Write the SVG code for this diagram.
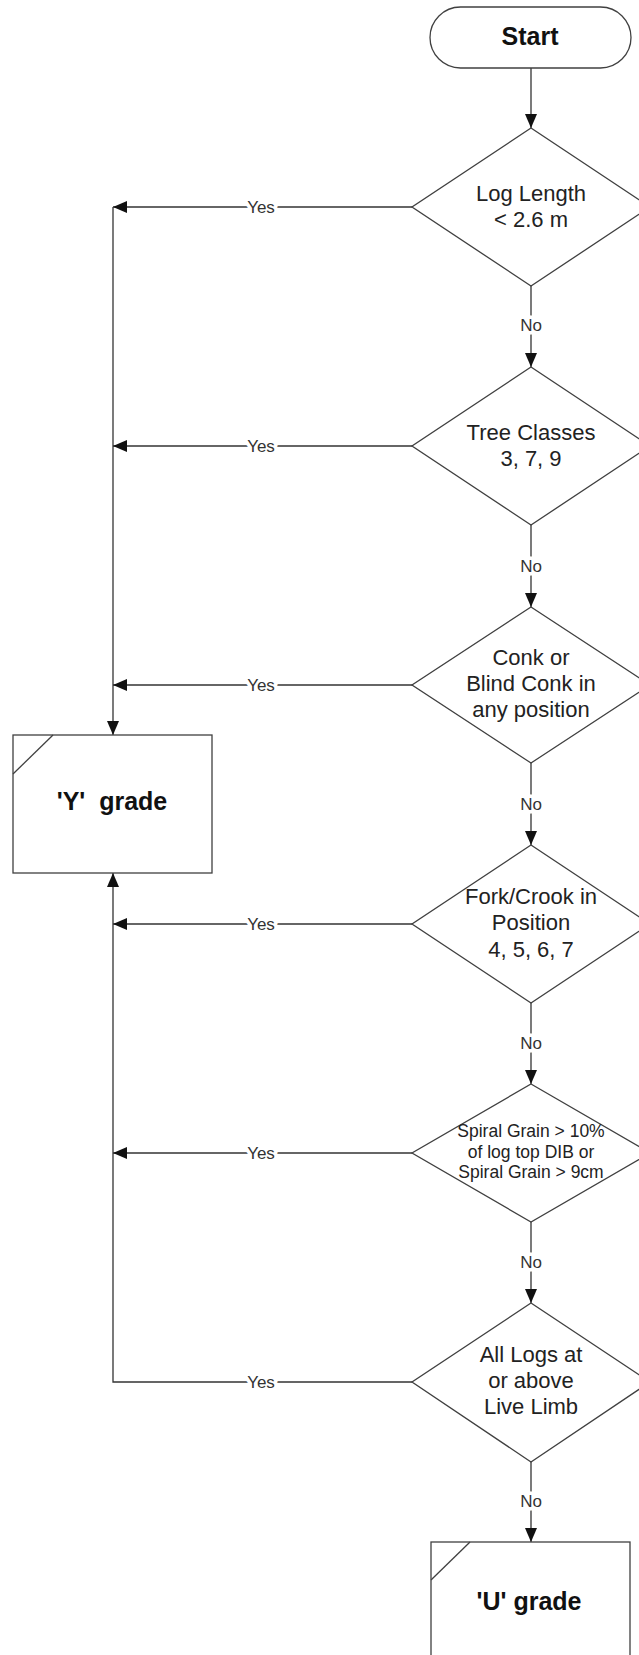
<svg xmlns="http://www.w3.org/2000/svg" width="639" height="1655" viewBox="0 0 639 1655">
<defs>
<style>
.shape{fill:#fff;stroke:#404040;stroke-width:1.3}
.cut{fill:none;stroke:#404040;stroke-width:1.3}
.conn{fill:none;stroke:#333;stroke-width:1.3}
.t{font-family:"Liberation Sans",Arial,sans-serif;font-size:22px;fill:#222;text-anchor:middle}
.ts{font-family:"Liberation Sans",Arial,sans-serif;font-size:17.5px;fill:#222;text-anchor:middle}
.tb{font-family:"Liberation Sans",Arial,sans-serif;font-size:25px;font-weight:bold;fill:#111;text-anchor:middle}
.lbl{font-family:"Liberation Sans",Arial,sans-serif;font-size:17px;fill:#333;text-anchor:middle;stroke:#fff;stroke-width:7;stroke-linejoin:round;paint-order:stroke}
</style>
<marker id="arr" markerUnits="userSpaceOnUse" markerWidth="14" markerHeight="12" viewBox="0 0 14 12" refX="14" refY="6" orient="auto">
<path d="M0,0 L14,6 L0,12 Z" fill="#111"/>
</marker>
</defs>
<rect width="639" height="1655" fill="#fff"/>

<g id="connectors">
<path class="conn" d="M531,68 V128" marker-end="url(#arr)"/>
<path class="conn" d="M531,286 V367" marker-end="url(#arr)"/>
<path class="conn" d="M531,525 V607" marker-end="url(#arr)"/>
<path class="conn" d="M531,763 V845" marker-end="url(#arr)"/>
<path class="conn" d="M531,1003 V1084" marker-end="url(#arr)"/>
<path class="conn" d="M531,1222 V1303" marker-end="url(#arr)"/>
<path class="conn" d="M531,1462 V1542" marker-end="url(#arr)"/>
<path class="conn" d="M412,207 H113" marker-end="url(#arr)"/>
<path class="conn" d="M113,207 V735" marker-end="url(#arr)"/>
<path class="conn" d="M412,446 H113" marker-end="url(#arr)"/>
<path class="conn" d="M412,685 H113" marker-end="url(#arr)"/>
<path class="conn" d="M412,924 H113" marker-end="url(#arr)"/>
<path class="conn" d="M412,1153 H113" marker-end="url(#arr)"/>
<path class="conn" d="M412,1382 H113 V873" marker-end="url(#arr)"/>
<text class="lbl" x="531" y="331">No</text>
<text class="lbl" x="531" y="572">No</text>
<text class="lbl" x="531" y="810">No</text>
<text class="lbl" x="531" y="1049">No</text>
<text class="lbl" x="531" y="1268">No</text>
<text class="lbl" x="531" y="1507">No</text>
<text class="lbl" x="261" y="213">Yes</text>
<text class="lbl" x="261" y="452">Yes</text>
<text class="lbl" x="261" y="691">Yes</text>
<text class="lbl" x="261" y="930">Yes</text>
<text class="lbl" x="261" y="1159">Yes</text>
<text class="lbl" x="261" y="1388">Yes</text>
</g>

<g id="start">
<rect class="shape" x="430" y="7" width="201" height="61" rx="30.5" ry="30.5"/>
<text class="tb" x="530" y="45">Start</text>
</g>

<g id="d1">
<path class="shape" d="M531,128 L650,207 L531,286 L412,207 Z"/>
<text class="t" x="531" y="201">Log Length</text>
<text class="t" x="531" y="227">&lt; 2.6 m</text>
</g>

<g id="d2">
<path class="shape" d="M531,367 L650,446 L531,525 L412,446 Z"/>
<text class="t" x="531" y="440">Tree Classes</text>
<text class="t" x="531" y="466">3, 7, 9</text>
</g>

<g id="d3">
<path class="shape" d="M531,607 L650,685 L531,763 L412,685 Z"/>
<text class="t" x="531" y="665">Conk or</text>
<text class="t" x="531" y="691">Blind Conk in</text>
<text class="t" x="531" y="717">any position</text>
</g>

<g id="d4">
<path class="shape" d="M531,845 L650,924 L531,1003 L412,924 Z"/>
<text class="t" x="531" y="904">Fork/Crook in</text>
<text class="t" x="531" y="930">Position</text>
<text class="t" x="531" y="957">4, 5, 6, 7</text>
</g>

<g id="d5">
<path class="shape" d="M531,1084 L650,1153 L531,1222 L412,1153 Z"/>
<text class="ts" x="531" y="1137">Spiral Grain &gt; 10%</text>
<text class="ts" x="531" y="1158">of log top DIB or</text>
<text class="ts" x="531" y="1178">Spiral Grain &gt; 9cm</text>
</g>

<g id="d6">
<path class="shape" d="M531,1303 L650,1382 L531,1462 L412,1382 Z"/>
<text class="t" x="531" y="1362">All Logs at</text>
<text class="t" x="531" y="1388">or above</text>
<text class="t" x="531" y="1414">Live Limb</text>
</g>

<g id="ygrade">
<rect class="shape" x="13" y="735" width="199" height="138"/>
<path class="cut" d="M53,735 L13,774"/>
<text class="tb" x="112" y="810" xml:space="preserve">'Y'  grade</text>
</g>

<g id="ugrade">
<rect class="shape" x="431" y="1542" width="199" height="139"/>
<path class="cut" d="M470,1542 L431,1580"/>
<text class="tb" x="529" y="1610">'U' grade</text>
</g>
</svg>
